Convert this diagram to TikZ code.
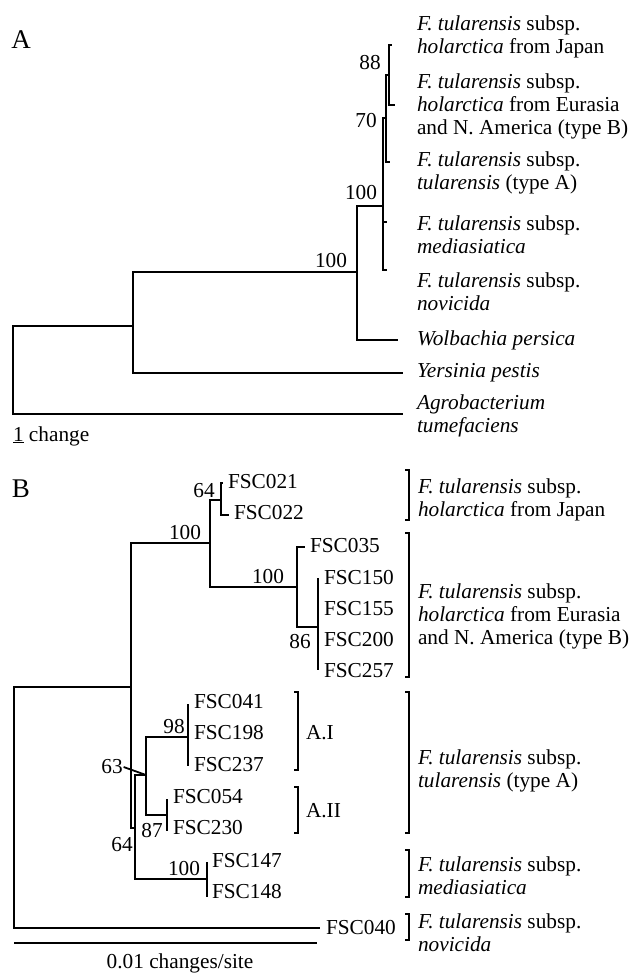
\documentclass[tikz,border=0pt]{standalone}
\usepackage{fontspec}
\setmainfont{Liberation Serif}
\usepackage{tikz}
\usetikzlibrary{positioning}

\newcommand{\ftsub}{\textit{F. tularensis} subsp.}

\begin{document}
\begin{tikzpicture}[
    x=1pt, y=-1pt,
    line width=2pt,
    every node/.style={font=\fontsize{21.3}{23}\selectfont, inner sep=0pt},
    taxon/.style={anchor=west, align=left},
    panel/.style={font=\fontsize{27}{27}\selectfont},
    tick/.style={line width=1.8pt}
]
\useasboundingbox (0,0) rectangle (631,973);

% A
\node[panel] (A) at (21,40) {A};
\coordinate (a0) at (13,370);
\coordinate (a1) at (133,326);
\coordinate (a2) at (357,272);
\coordinate (a3) at (383,206);
\coordinate (a4) at (386,118);
\coordinate (a5) at (389,75);
\coordinate (japA) at (392,45);
\coordinate (eurA) at (395,105);
\coordinate (tulA) at (390,162);
\coordinate (medA) at (387,222);
\coordinate (novA) at (387,270);
\coordinate (wol) at (398,340);
\coordinate (yer) at (403,373);
\coordinate (agr) at (403,414);

\draw (a0) |- (a1);
\draw (a0) |- (agr);
\draw (a1) |- (a2);
\draw (a1) |- (yer);
\draw (a2) |- (a3);
\draw (a2) |- (wol);
\draw (a3) |- (a4);
\draw (a3) |- (medA);
\draw (a3) |- (novA);
\draw (a4) |- (a5);
\draw (a4) |- (tulA);
\draw (a5) |- (japA);
\draw (a5) |- (eurA);

\node (s88) at (370,63) {88};
\node (s70) at (366,121) {70};
\node (s100a) at (361,193) {100};
\node (s100b) at (331,261) {100};

\node[taxon] (txJap) at (416,37) {\ftsub\\\textit{holarctica} from Japan};
\node[taxon] (txEur) at (416,106) {\ftsub\\\textit{holarctica} from Eurasia\\and N. America (type B)};
\node[taxon] (txTul) at (416,173) {\ftsub\\\textit{tularensis} (type A)};
\node[taxon] (txMed) at (416,235) {\ftsub\\\textit{mediasiatica}};
\node[taxon] (txNov) at (416,292) {\ftsub\\\textit{novicida}};
\node[taxon] (txWol) at (416,340) {\textit{Wolbachia persica}};
\node[taxon] (txYer) at (416,373) {\textit{Yersinia pestis}};
\node[taxon] (txAgr) at (416,416) {\textit{Agrobacterium}\\\textit{tumefaciens}};

\node[anchor=west] (scA) at (12,436) {\underline{1} change};

% B
\node[panel] (B) at (21,489) {B};
\coordinate (b0) at (14,808);
\coordinate (b1) at (131,687);
\coordinate (b2) at (210,543);
\coordinate (b3) at (221,500);
\coordinate (b4) at (297,587);
\coordinate (b5) at (318,627);
\coordinate (b6) at (135,828);
\coordinate (b7) at (146,775);
\coordinate (b8) at (188,737);
\coordinate (b9) at (167,815);
\coordinate (b10) at (207,879);
\coordinate (t021) at (223,483);
\coordinate (t022) at (229,515);
\coordinate (t035) at (305,547);
\coordinate (t150) at (318,578);
\coordinate (t257) at (318,670);
\coordinate (t041) at (188,704);
\coordinate (t237) at (188,766);
\coordinate (t054) at (167,799);
\coordinate (t230) at (167,831);
\coordinate (t147) at (207,862);
\coordinate (t148) at (207,897);
\coordinate (t040) at (320,928);

\draw (b0) |- (b1);
\draw (b0) |- (t040);
\draw (b1) |- (b2);
\draw (b1) |- (b6);
\draw (b2) |- (b3);
\draw (b2) |- (b4);
\draw (b3) |- (t021);
\draw (b3) |- (t022);
\draw (b4) |- (t035);
\draw (b4) |- (b5);
\draw (b5) |- (t150);
\draw (b5) |- (t257);
\draw (b6) |- (b7);
\draw (b6) |- (b10);
\draw (b7) |- (b8);
\draw (b7) |- (b9);
\draw (b8) |- (t041);
\draw (b8) |- (t237);
\draw (b9) |- (t054);
\draw (b9) |- (t230);
\draw (b10) |- (t147);
\draw (b10) |- (t148);

\node[taxon] (l021) at (227,482) {FSC021};
\node[taxon] (l022) at (233,513) {FSC022};
\node[taxon] (l035) at (309,546) {FSC035};
\node[taxon] (l150) at (323,578) {FSC150};
\node[taxon] (l155) at (323,609) {FSC155};
\node[taxon] (l200) at (323,640) {FSC200};
\node[taxon] (l257) at (323,671) {FSC257};
\node[taxon] (l041) at (193,702) {FSC041};
\node[taxon] (l198) at (193,733) {FSC198};
\node[taxon] (l237) at (193,765) {FSC237};
\node[taxon] (l054) at (172,797) {FSC054};
\node[taxon] (l230) at (172,828) {FSC230};
\node[taxon] (l147) at (211,861) {FSC147};
\node[taxon] (l148) at (211,892) {FSC148};
\node[taxon] (l040) at (325,928) {FSC040};

\node (s64a) at (204,491) {64};
\node (s100c) at (185,533) {100};
\node (s100d) at (268,577) {100};
\node (s86) at (300,642) {86};
\node (s98) at (174,727) {98};
\node (s63) at (112,767) {63};
\node (s87) at (152,831) {87};
\node (s64b) at (122,845) {64};
\node (s100e) at (184,869) {100};
\draw[tick] (s63.east) -- (b7);

% brackets
\draw[tick] (405,470) -| (409,520) -- (405,520);
\draw[tick] (405,533) -| (409,677) -- (405,677);
\draw[tick] (405,692) -| (409,833) -- (405,833);
\draw[tick] (405,850) -| (409,897) -- (405,897);
\draw[tick] (405,914) -| (409,940) -- (405,940);
\draw[tick] (294,692) -| (298,770) -- (294,770);
\draw[tick] (294,787) -| (298,833) -- (294,833);

\node[taxon] (AI) at (305,733) {A.I};
\node[taxon] (AII) at (305,811) {A.II};

\node[taxon] (grJap) at (417,500) {\ftsub\\\textit{holarctica} from Japan};
\node[taxon] (grEur) at (417,616) {\ftsub\\\textit{holarctica} from Eurasia\\and N. America (type B)};
\node[taxon] (grTul) at (417,771) {\ftsub\\\textit{tularensis} (type A)};
\node[taxon] (grMed) at (417,876) {\ftsub\\\textit{mediasiatica}};
\node[taxon] (grNov) at (417,933) {\ftsub\\\textit{novicida}};

\coordinate (sb1) at (14,943);
\coordinate (sb2) at (317,943);
\draw (sb1) -- (sb2);
\node (scB) at (180,963) {0.01 changes/site};
\end{tikzpicture}
\end{document}
